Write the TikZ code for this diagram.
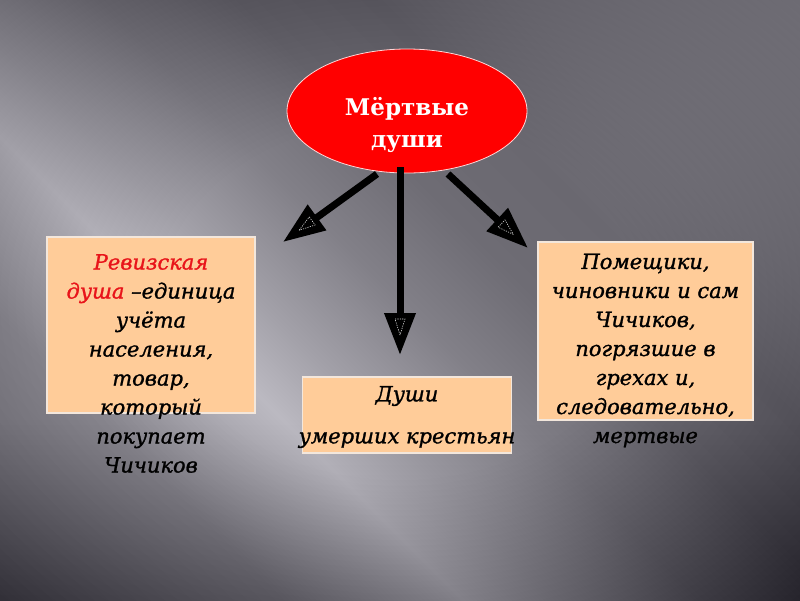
\documentclass[tikz,border=0pt]{standalone}
\usepackage{fontspec}
\setmainfont{DejaVu Serif}
\newfontfamily\boxfnt{DejaVu Serif}
\usetikzlibrary{arrows.meta,shapes.geometric,calc}
\definecolor{bg0}{HTML}{7F7D85}
\definecolor{bg1}{HTML}{939199}
\definecolor{bg2}{HTML}{BBB9C1}
\definecolor{bg3}{HTML}{A2A0A8}
\definecolor{bg4}{HTML}{828088}
\definecolor{bg5}{HTML}{6E6C74}
\definecolor{bg6}{HTML}{6A6870}
\definecolor{bg7}{HTML}{7A7880}
\definecolor{bg8}{HTML}{96949C}
\definecolor{boxfill}{HTML}{FFCC99}
\definecolor{boxline}{HTML}{F3E7DC}
\definecolor{redtext}{HTML}{E8141A}
\definecolor{ellline}{HTML}{FFD6D6}
\pgfdeclarehorizontalshading{bgshade}{100bp}{color(0bp)=(bg0); color(14.64bp)=(bg0); color(28.78bp)=(bg1); color(37.97bp)=(bg2); color(42.92bp)=(bg3); color(50bp)=(bg4); color(57.07bp)=(bg5); color(64.14bp)=(bg6); color(71.21bp)=(bg7); color(85.36bp)=(bg8); color(100bp)=(bg8)}
\tikzset{
  boxnode/.style={draw=boxline, line width=1.2pt, fill=boxfill, inner sep=0pt},
  boxtext/.style={align=center, inner sep=0pt, text=black, font=\boxfnt\itshape\addfontfeatures{FakeBold=1.2}\fontsize{21}{29}\selectfont},
  titletext/.style={align=center, inner sep=0pt, text=white, font=\boxfnt\bfseries\fontsize{23}{32}\selectfont},
  bigarrow/.style={line width=7pt, -{Triangle[length=42pt, width=30pt]}},
  innerdash/.style={draw=white!75!gray, line width=0.6pt, dash pattern=on 1.2pt off 1.2pt},
  shadelayer/.style={fill=black, opacity=#1}
}
\newcommand\innertri[2]{%
  \coordinate (ib) at ($(#1)!36pt!(#2)$);
  \draw[innerdash] ($(#1)!20pt!(#2)$) -- ($(ib)!5pt!90:(#2)$) -- ($(ib)!5pt!-90:(#2)$) -- cycle;}
\begin{document}
\begin{tikzpicture}[x=1pt,y=-1pt]
\useasboundingbox (0,0) rectangle (800,600);
\begin{scope}
\clip (0,0) rectangle (800,600);
\shade[shading=bgshade, shading angle=45] (0,0) rectangle (800,600);
\foreach \r in {0.6,0.62,...,1.42}
  \path[shadelayer=0.005, even odd rule] (-5,-5) rectangle (805,605) (400,300) ellipse [x radius=\r*400, y radius=\r*300];
\foreach \i in {0,...,35}
  \path[shadelayer=0.005] (-5,420+\i*5) rectangle (805,605);
\end{scope}
% title
\node[ellipse, fill=red, draw=ellline, line width=0.8pt, minimum width=240pt, minimum height=124pt, inner sep=0pt] (title) at (407,111) {};
\node[titletext] (titletxt) at (407,125) {Мёртвые\\души};
% boxes
\node[boxnode, minimum width=208pt, minimum height=176pt] (boxL) at (151,325) {};
\node[boxnode, minimum width=209pt, minimum height=76pt] (boxM) at (407,415) {};
\node[boxnode, minimum width=215pt, minimum height=178pt] (boxR) at (645.5,331) {};
% texts
\node[boxtext] (txtL) at (151,363.5) {\textcolor{redtext}{Ревизская}\\\textcolor{redtext}{душа} –единица\\учёта\\населения,\\товар,\\который\\покупает\\Чичиков};
\node[boxtext] (txtM) at (407,417) {Души\\[13pt]умерших крестьян};
\node[boxtext] (txtR) at (645.5,350.5) {Помещики,\\чиновники и сам\\Чичиков,\\погрязшие в\\грехах и,\\следовательно,\\мертвые};
% arrows
\coordinate (sL) at (377,174); \coordinate (tL) at (283,242);
\coordinate (sM) at (400,167); \coordinate (tM) at (400,355);
\coordinate (sR) at (448,174); \coordinate (tR) at (528,248);
\draw[bigarrow] (sL) -- (tL);
\draw[bigarrow] (sM) -- (tM);
\draw[bigarrow] (sR) -- (tR);
\innertri{tL}{sL}
\innertri{tM}{sM}
\innertri{tR}{sR}
\end{tikzpicture}
\end{document}
